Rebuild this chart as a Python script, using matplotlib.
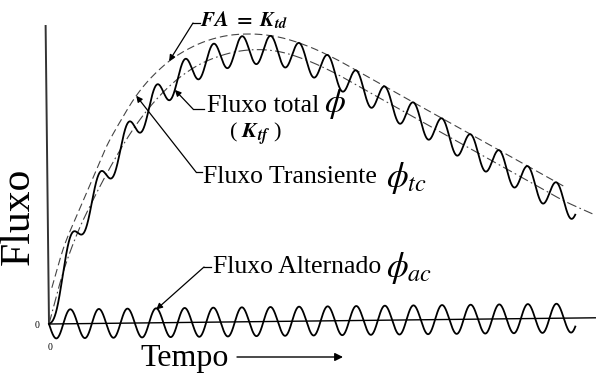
import numpy as np
import matplotlib
matplotlib.use("Agg")
import matplotlib.pyplot as plt
from matplotlib.transforms import Affine2D

plt.rcParams["mathtext.fontset"] = "stix"
SERIF = ["Liberation Serif", "DejaVu Serif"]

# Time in power-frequency cycles, flux in per-unit of the AC flux peak
knot_cycles = [0, 0.5, 1, 1.5, 2, 3, 4, 5, 6, 7, 8, 9, 10,
               11, 12, 13, 14, 15, 16, 17, 18, 19]
transient_flux = [0, 3.6, 6.3, 8.4, 10.3, 13.6, 16.0, 17.6, 18.5, 18.9, 18.8,
                  18.2, 17.3, 16.2, 15.1, 14.0, 12.9, 11.8, 10.7, 9.6, 8.5, 7.6]
# FA = K_td envelope (dimensioning factor curve)
envelope_cycles = [0.1, 0.5, 1, 1.5, 2, 2.5, 3, 4, 5, 6, 7, 8, 9,
                   10, 11, 12, 13, 14, 15, 16, 17, 18]
envelope_flux = [2.5, 5.2, 7.6, 9.9, 12.2, 14.0, 15.6, 17.8, 19.1, 19.8, 20.0,
                 19.8, 19.2, 18.3, 17.2, 16.1, 15.0, 13.9, 12.8, 11.7, 10.6, 9.5]
ac_peak = 1.0
total_end = 18.4          # last cycle drawn for total and AC flux
transient_end = 19.0


def smooth(xk, yk, x):
    """Cubic Hermite curve through the knots."""
    xk = np.asarray(xk, float)
    yk = np.asarray(yk, float)
    m = np.gradient(yk, xk)
    i = np.clip(np.searchsorted(xk, x) - 1, 0, len(xk) - 2)
    h = xk[i + 1] - xk[i]
    s = (x - xk[i]) / h
    h00 = 2 * s**3 - 3 * s**2 + 1
    h10 = s**3 - 2 * s**2 + s
    h01 = -2 * s**3 + 3 * s**2
    h11 = s**3 - s**2
    return h00 * yk[i] + h10 * h * m[i] + h01 * yk[i + 1] + h11 * h * m[i + 1]


t = np.linspace(0, total_end, 3000)
phi_tc = smooth(knot_cycles, transient_flux, t)
phi_ac = -ac_peak * np.sin(2 * np.pi * t)
phi_total = phi_tc + phi_ac

t_env = np.linspace(envelope_cycles[0], envelope_cycles[-1], 1500)
env = smooth(envelope_cycles, envelope_flux, t_env)
t_tc = np.linspace(0, transient_end, 1500)
tc_line = smooth(knot_cycles, transient_flux, t_tc)

W, H = 596, 373
fig = plt.figure(figsize=(W / 100, H / 100), dpi=100)
ax = fig.add_axes([0, 0, 1, 1])
ax.set_axis_off()

# origin of the diagram in pixels and scale of one cycle / one per-unit
OX, OY, SX, SY = 49, 324, 28.6, 14.5
ax.set_xlim(-OX / SX, (W - OX) / SX)
ax.set_ylim((OY - H) / SY, OY / SY)


def P(x, y):
    """Figure pixel position (from top-left) to data coordinates."""
    return (x - OX) / SX, (OY - y) / SY


# the printed axes and AC trace sit on a very slightly tilted sheet
tilt = Affine2D().rotate_deg_around(OX, H - OY, 0.65)
tilted = ax.transData + tilt

x_top = P(W, 0)[0]
y_top = P(0, 25)[1]
ax.plot([0, 0], [0, y_top], color="#333333", lw=1.4, transform=tilted,
        solid_capstyle="butt")
ax.plot([0, x_top], [0, 0], color="black", lw=1.0, transform=tilted,
        solid_capstyle="butt")

ax.plot(t_env, env, color="#444444", lw=0.8, dashes=(7, 3.5))
ax.plot(t_tc, tc_line, color="#444444", lw=0.8, dashes=(9, 3, 1.5, 3))
ax.plot(t, phi_total, color="black", lw=1.3)
ax.plot(t, phi_ac, color="black", lw=1.3, transform=tilted)


def ftext(x, y, s, **kw):
    kw.setdefault("family", SERIF)
    return fig.text(x / W, 1 - y / H, s, **kw)


ftext(19, 216, "Fluxo", size=30, rotation=90, ha="center", va="center")
ftext(185, 366, "Tempo", size=23, ha="center", va="baseline")
ftext(37, 326, "0", size=7, ha="center", va="center")
ftext(50, 348, "0", size=7, ha="center", va="center")
ax.annotate("", xy=P(343, 357), xytext=P(237, 357),
            arrowprops=dict(arrowstyle="-|>", lw=1.0, color="black",
                            mutation_scale=12, shrinkA=0, shrinkB=0))

ftext(200, 20, r"$\mathbfit{FA}\ \mathbf{=}\ \mathbfit{K}_{\mathbfit{td}}$",
      size=15, ha="left", va="center")
ftext(207, 106, "Fluxo total", size=18.5, ha="left", va="center")
ftext(324, 104, r"$\phi$", size=24, ha="left", va="center")
ftext(229, 134, r"( $\mathbfit{K}_{\mathbfit{tf}}$ )", size=16, ha="left", va="center")
ftext(203, 177, "Fluxo Transiente", size=18.5, ha="left", va="center")
ftext(386, 178, r"$\phi_{tc}$", size=25, ha="left", va="center")
ftext(213, 267, "Fluxo Alternado", size=18.5, ha="left", va="center")
ftext(386, 268, r"$\phi_{ac}$", size=25, ha="left", va="center")


def leader(text_xy, elbow_xy, t_target, curve_t, curve_y):
    target = (t_target, float(np.interp(t_target, curve_t, curve_y)))
    ax.plot(*zip(P(*text_xy), P(*elbow_xy)), color="black", lw=0.9)
    ax.annotate("", xy=target, xytext=P(*elbow_xy),
                arrowprops=dict(arrowstyle="-|>", lw=0.9, color="black",
                                mutation_scale=9, shrinkA=0, shrinkB=0))


leader((200, 23), (193, 23), 4.2, t_env, env)
leader((204, 109), (193, 109), 4.4, t, phi_total)
leader((202, 172), (196, 172), 3.05, t_env, env)
leader((211, 267), (204, 267), 3.75, t, phi_ac)

fig.savefig("out.png", dpi=100)
